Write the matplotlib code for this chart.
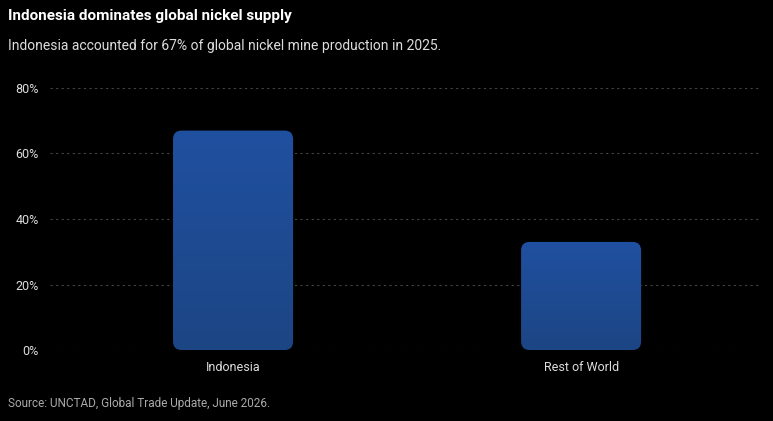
import numpy as np
import matplotlib.pyplot as plt
from matplotlib.patches import FancyBboxPatch

plt.rcParams['font.family'] = ['Roboto', 'DejaVu Sans']

categories = ['Indonesia', 'Rest of World']
shares = [67, 33]
y_ticks = [0, 20, 40, 60, 80]

fig = plt.figure(figsize=(7.73, 4.21), dpi=100, facecolor='black')
ax = fig.add_axes([50 / 773, 1 - 350 / 421, 710 / 773, 262 / 421])
ax.set_facecolor('black')
ax.set_xlim(-0.526, 1.514)
ax.set_ylim(0, 80)

width = 0.345
rad = 0.024
aspect = 2.66 / rad
grad = np.linspace(0, 1, 256).reshape(-1, 1)
cmap = plt.matplotlib.colors.LinearSegmentedColormap.from_list('b', ['#1c4584', '#2050a0'])
for i, v in enumerate(shares):
    p = FancyBboxPatch((i - width / 2 + rad, rad * aspect), width - 2 * rad, v - 2 * rad * aspect,
                       boxstyle=f'round,pad={rad}', mutation_aspect=aspect,
                       facecolor='none', edgecolor='none')
    ax.add_patch(p)
    im = ax.imshow(grad, cmap=cmap, aspect='auto', origin='lower',
                   extent=(i - width / 2, i + width / 2, 0, v), zorder=2)
    im.set_clip_path(p)
ax.set_xlim(-0.526, 1.514)
ax.set_ylim(0, 80)

for y in y_ticks:
    ax.axhline(y, color='#444444', lw=0.8, ls=(0, (2, 3)), zorder=1)
ax.set_yticks(y_ticks)
ax.set_yticklabels([f'{t}%' for t in y_ticks], color='#dddddd', fontsize=9)
ax.set_xticks(range(len(categories)))
ax.set_xticklabels(categories, color='#dddddd', fontsize=9)
ax.tick_params(length=0, pad=8)
for s in ax.spines.values():
    s.set_visible(False)

fig.text(8 / 773, 1 - 16 / 421, 'Indonesia dominates global nickel supply', color='white',
         fontsize=11, fontweight='bold', va='center')
fig.text(8 / 773, 1 - 46 / 421, 'Indonesia accounted for 67% of global nickel mine production in 2025.',
         color='#dddddd', fontsize=10, va='center')
fig.text(8 / 773, 1 - 403 / 421, 'Source: UNCTAD, Global Trade Update, June 2026.',
         color='#aaaaaa', fontsize=8.5, va='center')

fig.savefig('out.png', dpi=100, facecolor='black')
